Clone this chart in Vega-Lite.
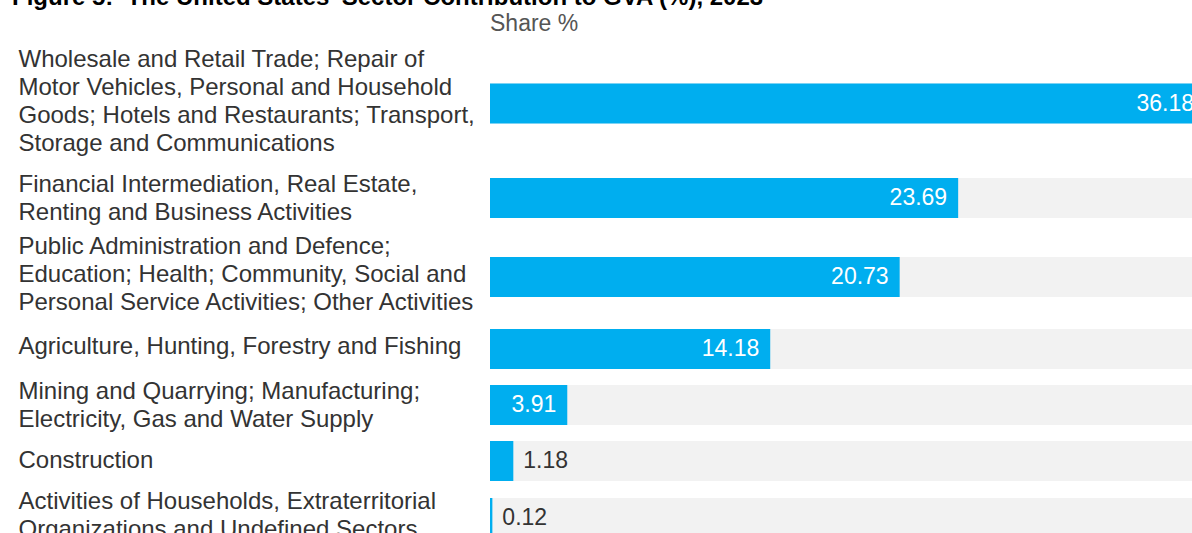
{
  "$schema": "https://vega.github.io/schema/vega-lite/v6.json",
  "padding": {"left": 12, "top": -14, "right": 0, "bottom": 0},
  "background": "white",
  "title": {"text": "Figure 5:\u00a0 The United States' Sector Contribution to GVA (%), 2023", "anchor": "start", "frame": "bounds", "font": "Liberation Sans", "fontSize": 24, "fontWeight": "bold", "color": "#000000", "offset": 3, "dx": -6},
  "data": {"values": [
    {"sector": "Wholesale and Retail Trade; Repair of\nMotor Vehicles, Personal and Household\nGoods; Hotels and Restaurants; Transport,\nStorage and Communications", "share": 36.18},
    {"sector": "Financial Intermediation, Real Estate,\nRenting and Business Activities", "share": 23.69},
    {"sector": "Public Administration and Defence;\nEducation; Health; Community, Social and\nPersonal Service Activities; Other Activities", "share": 20.73},
    {"sector": "Agriculture, Hunting, Forestry and Fishing", "share": 14.18},
    {"sector": "Mining and Quarrying; Manufacturing;\nElectricity, Gas and Water Supply", "share": 3.91},
    {"sector": "Construction", "share": 1.18},
    {"sector": "Activities of Households, Extraterritorial\nOrganizations and Undefined Sectors", "share": 0.12}
  ]},
  "bounds": "flush",
  "spacing": 0,
  "resolve": {"scale": {"y": "independent"}},
  "vconcat": [
    {
      "height": 119, "width": 715,
      "title": {"text": "Share %", "anchor": "start", "frame": "group", "font": "Liberation Sans", "fontSize": 23, "fontWeight": "normal", "color": "#555555", "offset": 8},
      "transform": [{"joinaggregate": [{"op": "max", "field": "share", "as": "full"}]}, {"filter": "indexof(datum.sector, 'Wholesale') == 0"}],
      "encoding": {"y": {"field": "sector", "type": "nominal", "title": null, "scale": {"paddingInner": 0, "paddingOuter": 0}, "axis": {"labelExpr": "split(datum.value, '\\n')", "labelOffset": -44}}},
      "layer": [
        {"mark": {"type": "bar", "height": 40, "color": "#f2f2f2"}, "encoding": {"x": {"field": "full", "type": "quantitative", "scale": {"nice": false}, "axis": null}}},
        {"mark": {"type": "bar", "height": 40, "color": "#00aeef"}, "encoding": {"x": {"field": "share", "type": "quantitative", "axis": null}}},
        {"transform": [{"filter": "datum.share >= 3"}], "mark": {"type": "text", "align": "right", "baseline": "middle", "dx": -11, "color": "#ffffff", "font": "Liberation Sans", "fontSize": 23}, "encoding": {"x": {"field": "share", "type": "quantitative", "axis": null}, "text": {"field": "share", "type": "quantitative", "format": ".2f"}}},
        {"transform": [{"filter": "datum.share < 3"}], "mark": {"type": "text", "align": "left", "baseline": "middle", "dx": 10, "color": "#333333", "font": "Liberation Sans", "fontSize": 23}, "encoding": {"x": {"field": "share", "type": "quantitative", "axis": null}, "text": {"field": "share", "type": "quantitative", "format": ".2f"}}}
      ]
    },
    {
      "height": 70, "width": 715,
      "transform": [{"joinaggregate": [{"op": "max", "field": "share", "as": "full"}]}, {"filter": "indexof(datum.sector, 'Financial') == 0"}],
      "encoding": {"y": {"field": "sector", "type": "nominal", "title": null, "scale": {"paddingInner": 0, "paddingOuter": 0}, "axis": {"labelExpr": "split(datum.value, '\\n')", "labelOffset": -13}}},
      "layer": [
        {"mark": {"type": "bar", "height": 40, "color": "#f2f2f2"}, "encoding": {"x": {"field": "full", "type": "quantitative", "scale": {"nice": false}, "axis": null}}},
        {"mark": {"type": "bar", "height": 40, "color": "#00aeef"}, "encoding": {"x": {"field": "share", "type": "quantitative", "axis": null}}},
        {"transform": [{"filter": "datum.share >= 3"}], "mark": {"type": "text", "align": "right", "baseline": "middle", "dx": -11, "color": "#ffffff", "font": "Liberation Sans", "fontSize": 23}, "encoding": {"x": {"field": "share", "type": "quantitative", "axis": null}, "text": {"field": "share", "type": "quantitative", "format": ".2f"}}},
        {"transform": [{"filter": "datum.share < 3"}], "mark": {"type": "text", "align": "left", "baseline": "middle", "dx": 10, "color": "#333333", "font": "Liberation Sans", "fontSize": 23}, "encoding": {"x": {"field": "share", "type": "quantitative", "axis": null}, "text": {"field": "share", "type": "quantitative", "format": ".2f"}}}
      ]
    },
    {
      "height": 88, "width": 715,
      "transform": [{"joinaggregate": [{"op": "max", "field": "share", "as": "full"}]}, {"filter": "indexof(datum.sector, 'Public') == 0"}],
      "encoding": {"y": {"field": "sector", "type": "nominal", "title": null, "scale": {"paddingInner": 0, "paddingOuter": 0}, "axis": {"labelExpr": "split(datum.value, '\\n')", "labelOffset": -30}}},
      "layer": [
        {"mark": {"type": "bar", "height": 40, "color": "#f2f2f2"}, "encoding": {"x": {"field": "full", "type": "quantitative", "scale": {"nice": false}, "axis": null}}},
        {"mark": {"type": "bar", "height": 40, "color": "#00aeef"}, "encoding": {"x": {"field": "share", "type": "quantitative", "axis": null}}},
        {"transform": [{"filter": "datum.share >= 3"}], "mark": {"type": "text", "align": "right", "baseline": "middle", "dx": -11, "color": "#ffffff", "font": "Liberation Sans", "fontSize": 23}, "encoding": {"x": {"field": "share", "type": "quantitative", "axis": null}, "text": {"field": "share", "type": "quantitative", "format": ".2f"}}},
        {"transform": [{"filter": "datum.share < 3"}], "mark": {"type": "text", "align": "left", "baseline": "middle", "dx": 10, "color": "#333333", "font": "Liberation Sans", "fontSize": 23}, "encoding": {"x": {"field": "share", "type": "quantitative", "axis": null}, "text": {"field": "share", "type": "quantitative", "format": ".2f"}}}
      ]
    },
    {
      "height": 56, "width": 715,
      "transform": [{"joinaggregate": [{"op": "max", "field": "share", "as": "full"}]}, {"filter": "indexof(datum.sector, 'Agriculture') == 0"}],
      "encoding": {"y": {"field": "sector", "type": "nominal", "title": null, "scale": {"paddingInner": 0, "paddingOuter": 0}, "axis": {"labelExpr": "split(datum.value, '\\n')", "labelOffset": -2}}},
      "layer": [
        {"mark": {"type": "bar", "height": 40, "color": "#f2f2f2"}, "encoding": {"x": {"field": "full", "type": "quantitative", "scale": {"nice": false}, "axis": null}}},
        {"mark": {"type": "bar", "height": 40, "color": "#00aeef"}, "encoding": {"x": {"field": "share", "type": "quantitative", "axis": null}}},
        {"transform": [{"filter": "datum.share >= 3"}], "mark": {"type": "text", "align": "right", "baseline": "middle", "dx": -11, "color": "#ffffff", "font": "Liberation Sans", "fontSize": 23}, "encoding": {"x": {"field": "share", "type": "quantitative", "axis": null}, "text": {"field": "share", "type": "quantitative", "format": ".2f"}}},
        {"transform": [{"filter": "datum.share < 3"}], "mark": {"type": "text", "align": "left", "baseline": "middle", "dx": 10, "color": "#333333", "font": "Liberation Sans", "fontSize": 23}, "encoding": {"x": {"field": "share", "type": "quantitative", "axis": null}, "text": {"field": "share", "type": "quantitative", "format": ".2f"}}}
      ]
    },
    {
      "height": 56, "width": 715,
      "transform": [{"joinaggregate": [{"op": "max", "field": "share", "as": "full"}]}, {"filter": "indexof(datum.sector, 'Mining') == 0"}],
      "encoding": {"y": {"field": "sector", "type": "nominal", "title": null, "scale": {"paddingInner": 0, "paddingOuter": 0}, "axis": {"labelExpr": "split(datum.value, '\\n')", "labelOffset": -13}}},
      "layer": [
        {"mark": {"type": "bar", "height": 40, "color": "#f2f2f2"}, "encoding": {"x": {"field": "full", "type": "quantitative", "scale": {"nice": false}, "axis": null}}},
        {"mark": {"type": "bar", "height": 40, "color": "#00aeef"}, "encoding": {"x": {"field": "share", "type": "quantitative", "axis": null}}},
        {"transform": [{"filter": "datum.share >= 3"}], "mark": {"type": "text", "align": "right", "baseline": "middle", "dx": -11, "color": "#ffffff", "font": "Liberation Sans", "fontSize": 23}, "encoding": {"x": {"field": "share", "type": "quantitative", "axis": null}, "text": {"field": "share", "type": "quantitative", "format": ".2f"}}},
        {"transform": [{"filter": "datum.share < 3"}], "mark": {"type": "text", "align": "left", "baseline": "middle", "dx": 10, "color": "#333333", "font": "Liberation Sans", "fontSize": 23}, "encoding": {"x": {"field": "share", "type": "quantitative", "axis": null}, "text": {"field": "share", "type": "quantitative", "format": ".2f"}}}
      ]
    },
    {
      "height": 56, "width": 715,
      "transform": [{"joinaggregate": [{"op": "max", "field": "share", "as": "full"}]}, {"filter": "indexof(datum.sector, 'Construction') == 0"}],
      "encoding": {"y": {"field": "sector", "type": "nominal", "title": null, "scale": {"paddingInner": 0, "paddingOuter": 0}, "axis": {"labelExpr": "split(datum.value, '\\n')", "labelOffset": 0}}},
      "layer": [
        {"mark": {"type": "bar", "height": 40, "color": "#f2f2f2"}, "encoding": {"x": {"field": "full", "type": "quantitative", "scale": {"nice": false}, "axis": null}}},
        {"mark": {"type": "bar", "height": 40, "color": "#00aeef"}, "encoding": {"x": {"field": "share", "type": "quantitative", "axis": null}}},
        {"transform": [{"filter": "datum.share >= 3"}], "mark": {"type": "text", "align": "right", "baseline": "middle", "dx": -11, "color": "#ffffff", "font": "Liberation Sans", "fontSize": 23}, "encoding": {"x": {"field": "share", "type": "quantitative", "axis": null}, "text": {"field": "share", "type": "quantitative", "format": ".2f"}}},
        {"transform": [{"filter": "datum.share < 3"}], "mark": {"type": "text", "align": "left", "baseline": "middle", "dx": 10, "color": "#333333", "font": "Liberation Sans", "fontSize": 23}, "encoding": {"x": {"field": "share", "type": "quantitative", "axis": null}, "text": {"field": "share", "type": "quantitative", "format": ".2f"}}}
      ]
    },
    {
      "height": 58, "width": 715,
      "transform": [{"joinaggregate": [{"op": "max", "field": "share", "as": "full"}]}, {"filter": "indexof(datum.sector, 'Activities') == 0"}],
      "encoding": {"y": {"field": "sector", "type": "nominal", "title": null, "scale": {"paddingInner": 0, "paddingOuter": 0}, "axis": {"labelExpr": "split(datum.value, '\\n')", "labelOffset": -16}}},
      "layer": [
        {"mark": {"type": "bar", "height": 40, "color": "#f2f2f2"}, "encoding": {"x": {"field": "full", "type": "quantitative", "scale": {"nice": false}, "axis": null}}},
        {"mark": {"type": "bar", "height": 40, "color": "#00aeef"}, "encoding": {"x": {"field": "share", "type": "quantitative", "axis": null}}},
        {"transform": [{"filter": "datum.share >= 3"}], "mark": {"type": "text", "align": "right", "baseline": "middle", "dx": -11, "color": "#ffffff", "font": "Liberation Sans", "fontSize": 23}, "encoding": {"x": {"field": "share", "type": "quantitative", "axis": null}, "text": {"field": "share", "type": "quantitative", "format": ".2f"}}},
        {"transform": [{"filter": "datum.share < 3"}], "mark": {"type": "text", "align": "left", "baseline": "middle", "dx": 10, "color": "#333333", "font": "Liberation Sans", "fontSize": 23}, "encoding": {"x": {"field": "share", "type": "quantitative", "axis": null}, "text": {"field": "share", "type": "quantitative", "format": ".2f"}}}
      ]
    }
  ],
  "config": {
    "view": {"stroke": null},
    "axisY": {"domain": false, "ticks": false, "grid": false, "labelAlign": "left", "labelBaseline": "middle", "labelPadding": 472, "labelFont": "Liberation Sans", "labelFontSize": 24, "labelColor": "#333333", "labelLineHeight": 28, "labelLimit": 0}
  }
}
